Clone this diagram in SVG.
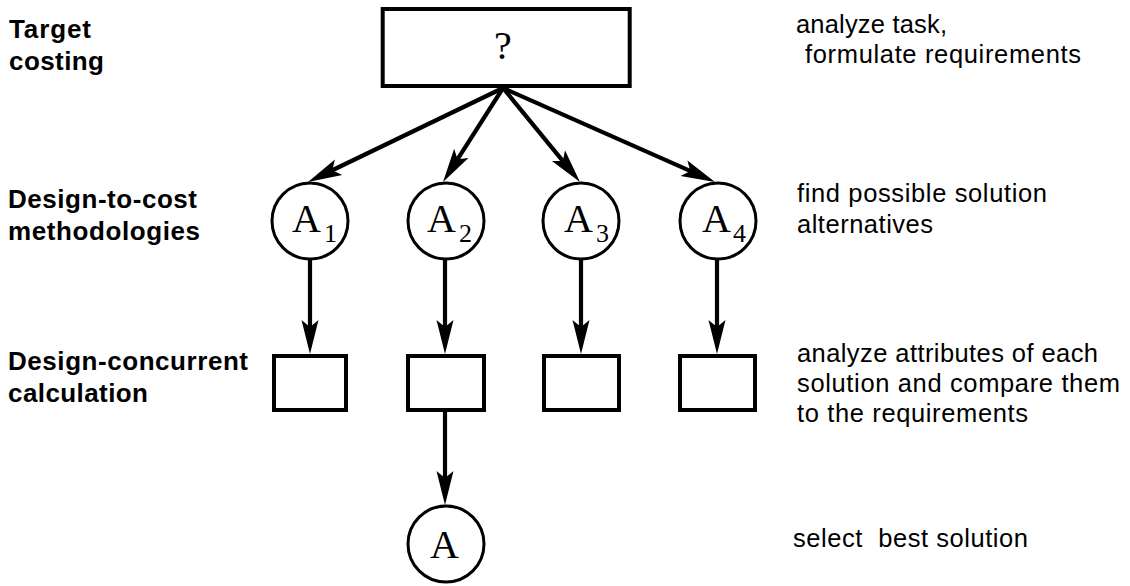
<svg xmlns="http://www.w3.org/2000/svg" width="1130" height="586" viewBox="0 0 1130 586">
  <style>
    .lvl { font-family: "Liberation Sans", Arial, sans-serif; font-weight: bold; font-size: 26px; fill: #000; }
    .note { font-family: "Liberation Sans", Arial, sans-serif; font-size: 25.5px; fill: #000; }
    .sym { font-family: "Liberation Serif", "Times New Roman", serif; font-size: 40px; fill: #000; }
    .sub { font-size: 26px; }
    .box { fill: #fff; stroke: #000; stroke-width: 4; }
    .ring { fill: #fff; stroke: #000; stroke-width: 3; }
    .edge { fill: none; stroke: #000; stroke-width: 4.2; marker-end: url(#head); }
  </style>
  <defs>
    <!-- slim notched arrowhead; refX puts the tip 23px past the line end -->
    <marker id="head" markerUnits="userSpaceOnUse" viewBox="-1 -10 36 20" markerWidth="36" markerHeight="20" refX="11" refY="0" orient="auto">
      <path d="M0,-8.5 L34,0 L0,8.5 L7,0 Z" fill="#000"/>
    </marker>
  </defs>
  <rect width="1130" height="586" fill="#fff"/>

  <!-- level captions -->
  <g id="captions-left">
    <text class="lvl" x="9" y="38" textLength="82" lengthAdjust="spacing">Target</text>
    <text class="lvl" x="9" y="70" textLength="95" lengthAdjust="spacing">costing</text>
    <text class="lvl" x="8" y="208" textLength="189" lengthAdjust="spacing">Design-to-cost</text>
    <text class="lvl" x="8" y="240" textLength="192" lengthAdjust="spacing">methodologies</text>
    <text class="lvl" x="8" y="370" textLength="240" lengthAdjust="spacing">Design-concurrent</text>
    <text class="lvl" x="8" y="402" textLength="140" lengthAdjust="spacing">calculation</text>
  </g>

  <!-- step descriptions -->
  <g id="captions-right">
    <text class="note" x="796" y="33" textLength="151" lengthAdjust="spacing">analyze task,</text>
    <text class="note" x="805" y="63" textLength="276" lengthAdjust="spacing">formulate requirements</text>
    <text class="note" x="797" y="202" textLength="250" lengthAdjust="spacing">find possible solution</text>
    <text class="note" x="797" y="233" textLength="136" lengthAdjust="spacing">alternatives</text>
    <text class="note" x="797" y="362" textLength="301" lengthAdjust="spacing">analyze attributes of each</text>
    <text class="note" x="797" y="392" textLength="323" lengthAdjust="spacing">solution and compare them</text>
    <text class="note" x="797" y="422" textLength="231" lengthAdjust="spacing">to the requirements</text>
    <text class="note" x="793" y="547" textLength="235" lengthAdjust="spacing" xml:space="preserve">select  best solution</text>
  </g>

  <!-- connectors -->
  <g id="connectors">
    <line class="edge" x1="503" y1="88" x2="328.7" y2="172"/>
    <line class="edge" x1="503" y1="88" x2="455.4" y2="162.6"/>
    <line class="edge" x1="503" y1="88" x2="565.4" y2="164.2"/>
    <line class="edge" x1="503" y1="88" x2="694" y2="172.7"/>
    <line class="edge" x1="310" y1="259" x2="310" y2="331"/>
    <line class="edge" x1="445" y1="259" x2="445" y2="331"/>
    <line class="edge" x1="581" y1="259" x2="581" y2="331"/>
    <line class="edge" x1="717" y1="259" x2="717" y2="331"/>
    <line class="edge" x1="445" y1="412" x2="445" y2="482"/>
  </g>

  <!-- task -->
  <g id="task">
    <rect class="box" x="382.7" y="9" width="247" height="77"/>
    <text class="sym" x="503" y="59" text-anchor="middle">?</text>
  </g>

  <!-- alternatives -->
  <g id="alt-1">
    <circle class="ring" cx="310" cy="221" r="38"/>
    <text class="sym"><tspan x="292" y="232">A</tspan><tspan class="sub" x="324" y="242">1</tspan></text>
  </g>
  <g id="alt-2">
    <circle class="ring" cx="446" cy="221" r="38"/>
    <text class="sym"><tspan x="427" y="232">A</tspan><tspan class="sub" x="459" y="242">2</tspan></text>
  </g>
  <g id="alt-3">
    <circle class="ring" cx="581" cy="221" r="38"/>
    <text class="sym"><tspan x="564" y="232">A</tspan><tspan class="sub" x="596" y="242">3</tspan></text>
  </g>
  <g id="alt-4">
    <circle class="ring" cx="718" cy="221" r="38"/>
    <text class="sym"><tspan x="702" y="232">A</tspan><tspan class="sub" x="733" y="242">4</tspan></text>
  </g>

  <!-- calculations -->
  <g id="calc-1"><rect class="box" x="274" y="356" width="72" height="54"/></g>
  <g id="calc-2"><rect class="box" x="408" y="356" width="76" height="54"/></g>
  <g id="calc-3"><rect class="box" x="544" y="356" width="75" height="54"/></g>
  <g id="calc-4"><rect class="box" x="680" y="356" width="75" height="54"/></g>

  <!-- selected solution -->
  <g id="best">
    <circle class="ring" cx="446" cy="544" r="38"/>
    <text class="sym" x="430" y="558">A</text>
  </g>
</svg>
